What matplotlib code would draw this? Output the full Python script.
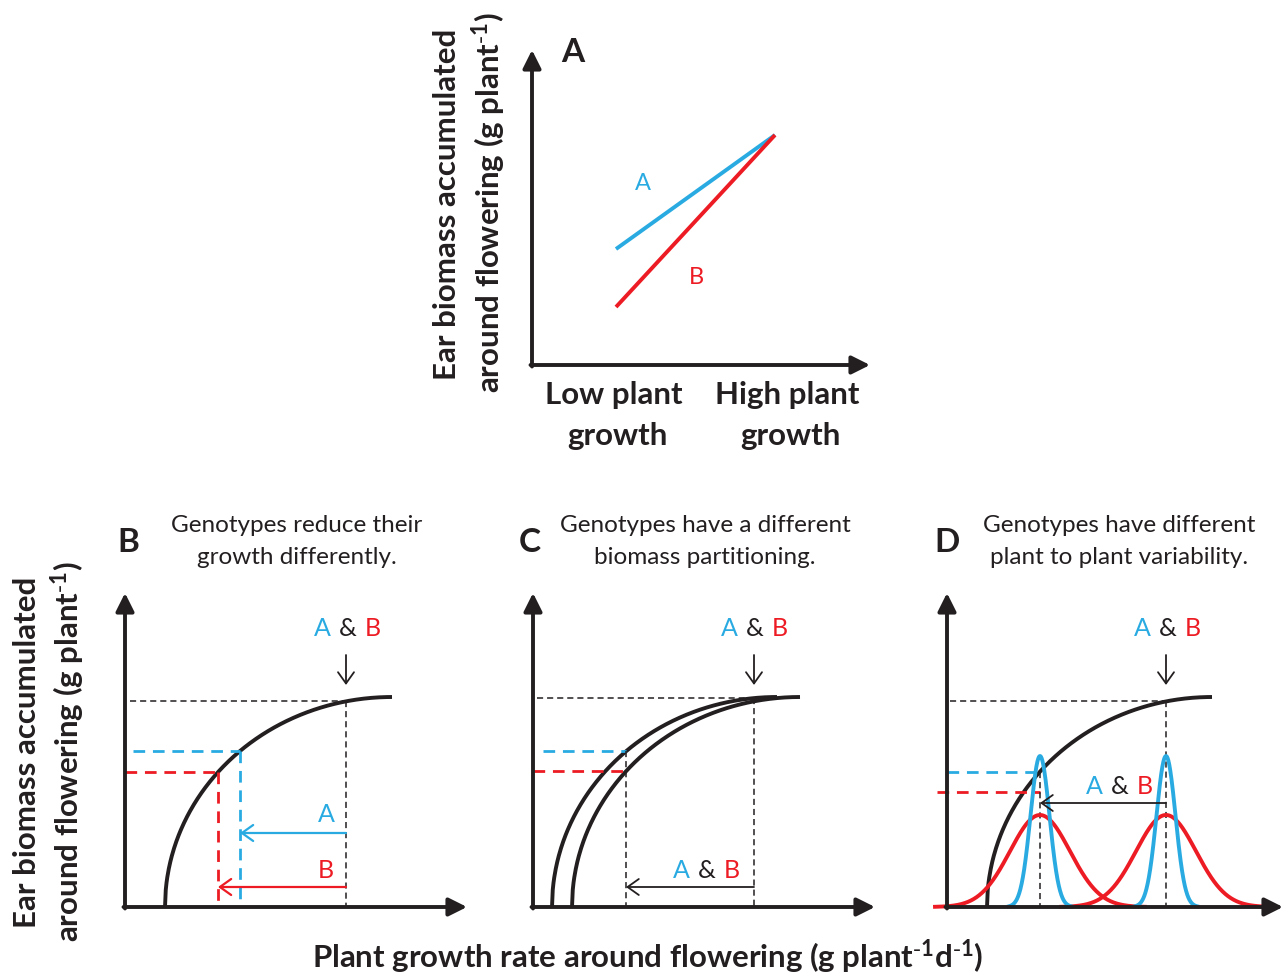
import numpy as np
import matplotlib
matplotlib.use("Agg")
import matplotlib.pyplot as plt

W, H = 1286, 976
BLUE = '#29abe2'
RED = '#ed1c24'
INK = '#231f20'

# ---- panel A: two genotypes, low vs high plant growth (local px units)
a_growth = [84, 243]
a_ear_A = [116, 230]
a_ear_B = [58, 230]

# ---- response curves (quarter ellipse): start x, end x, plateau height
curve_B = (40, 267, 210)
curve_C = [(19, 244, 210), (39, 267, 210)]
curve_D = (40, 265, 210)

# growth rate under no stress (A & B) and under stress
ref_x = 221
B_stress = {'A': 115, 'B': 93}
C_stress = 93
D_stress = 93
D_ear_B = 115

# plant-to-plant distributions in D
D_centers = [93, 219]
D_sigma = {'A': 9.5, 'B': 30}
D_peak = {'A': 151, 'B': 92}

BOLD = 22.5
TITLE = 17.5
SUP = r'$^{\text{-}1}$'

plt.rcParams['font.family'] = ['Lato', 'DejaVu Sans']
plt.rcParams['mathtext.default'] = 'regular'

fig = plt.figure(figsize=(W / 100, H / 100), dpi=100)


def panel(ox, oy, x0, x1, y0, y1):
    ax = fig.add_axes([(ox + x0) / W, (H - oy + y0) / H, (x1 - x0) / W, (y1 - y0) / H])
    ax.set_xlim(x0, x1)
    ax.set_ylim(y0, y1)
    ax.axis('off')
    return ax


def axis_arrows(ax, xlen, ylen):
    st = dict(arrowstyle='-|>,head_length=0.5,head_width=0.25', lw=2.8, color=INK,
              mutation_scale=22, shrinkA=0, shrinkB=0)
    ax.annotate('', xy=(xlen, 0), xytext=(-1.5, 0), arrowprops=st, annotation_clip=False)
    ax.annotate('', xy=(0, ylen), xytext=(0, -1.5), arrowprops=st, annotation_clip=False)


def arrow(ax, tip, tail, color=INK, lw=1.3):
    ax.annotate('', xy=tip, xytext=tail, annotation_clip=False,
                arrowprops=dict(arrowstyle='->,head_length=0.45,head_width=0.32', lw=lw,
                                color=color, mutation_scale=18, shrinkA=0, shrinkB=0))


def ellipse(c, x):
    xs, xe, h = c
    return h * np.sqrt(np.clip(1 - ((xe - x) / (xe - xs)) ** 2, 0, 1))


def draw_curve(ax, c):
    xs, xe, h = c
    x = np.linspace(xs, xe, 300)
    ax.plot(x, ellipse(c, x), color=INK, lw=2.8, solid_capstyle='butt', clip_on=False)


def kdash(ax, x, y):
    ax.plot(x, y, color=INK, lw=1.1, dashes=(4, 2.6), clip_on=False)


def cdash(ax, x, y, color):
    ax.plot(x, y, color=color, lw=2.0, dashes=(4.2, 2.8), clip_on=False)


def ab_label(ax, x, y, size=18):
    ax.text(x, y, '&', color=INK, fontsize=size, ha='center', va='center')
    ax.text(x - 17, y, 'A', color=BLUE, fontsize=size, ha='right', va='center')
    ax.text(x + 17, y, 'B', color=RED, fontsize=size, ha='left', va='center')


def title(ax, lines, letter, lx):
    ax.text(lx, 365, letter, fontsize=24, fontweight='bold', color=INK, ha='center', va='center')
    ax.text(172, 381, lines[0], fontsize=TITLE, color=INK, ha='center', va='center')
    ax.text(172, 349, lines[1], fontsize=TITLE, color=INK, ha='center', va='center')


# ================= panel A
axA = panel(532, 365, -110, 360, -100, 370)
axis_arrows(axA, 338, 315)
axA.plot(a_growth, a_ear_A, color=BLUE, lw=2.8, solid_capstyle='butt')
axA.plot(a_growth, a_ear_B, color=RED, lw=2.8, solid_capstyle='butt')
axA.text(41, 313, 'A', fontsize=24, fontweight='bold', color=INK, ha='center', va='center')
axA.text(111, 182, 'A', fontsize=17, color=BLUE, ha='center', va='center')
axA.text(164, 88, 'B', fontsize=17, color=RED, ha='center', va='center')
axA.text(82, -30, 'Low plant', fontsize=BOLD, fontweight='bold', color=INK, ha='center', va='center')
axA.text(255, -30, 'High plant', fontsize=BOLD, fontweight='bold', color=INK, ha='center', va='center')
axA.text(85, -71, 'growth', fontsize=BOLD, fontweight='bold', color=INK, ha='center', va='center')
axA.text(258, -71, 'growth', fontsize=BOLD, fontweight='bold', color=INK, ha='center', va='center')
axA.text(-85, 161, 'Ear biomass accumulated', fontsize=BOLD, fontweight='bold',
         rotation=90, ha='center', va='center', color=INK)
axA.text(-43, 162, 'around flowering (g plant' + SUP + ')', fontsize=BOLD, fontweight='bold',
         rotation=90, ha='center', va='center', color=INK)

# ================= panel B
axB = panel(125, 907, -20, 360, -20, 400)
axis_arrows(axB, 342, 314)
draw_curve(axB, curve_B)
yr = ellipse(curve_B, ref_x)
kdash(axB, [5, ref_x], [yr, yr])
kdash(axB, [ref_x, ref_x], [yr, 0])
for g, col in [('A', BLUE), ('B', RED)]:
    xs = B_stress[g]
    ys = ellipse(curve_B, xs)
    cdash(axB, [8 if g == 'A' else 0, xs], [ys, ys], col)
    cdash(axB, [xs, xs], [ys, 0], col)
arrow(axB, (B_stress['A'], 74), (ref_x, 74), BLUE, 1.6)
arrow(axB, (B_stress['B'], 20), (ref_x, 20), RED, 1.6)
axB.text(201, 92, 'A', fontsize=18, color=BLUE, ha='center', va='center')
axB.text(201, 37, 'B', fontsize=18, color=RED, ha='center', va='center')
arrow(axB, (ref_x, 222), (ref_x, 252))
ab_label(axB, 223, 279)
title(axB, ['Genotypes reduce their', 'growth differently.'], 'B', 3)

# ================= panel C
axC = panel(533, 907, -20, 360, -20, 400)
axis_arrows(axC, 342, 314)
for c in curve_C:
    draw_curve(axC, c)
yr = ellipse(curve_C[0], ref_x)
kdash(axC, [4, ref_x], [yr, yr])
kdash(axC, [ref_x, ref_x], [yr, 0])
yA = ellipse(curve_C[0], C_stress)
yB = ellipse(curve_C[1], C_stress)
cdash(axC, [10, C_stress], [yA, yA], BLUE)
cdash(axC, [0, C_stress], [yB, yB], RED)
kdash(axC, [C_stress, C_stress], [yA, 0])
arrow(axC, (C_stress, 20), (ref_x, 20))
ab_label(axC, 174, 37)
arrow(axC, (ref_x, 222), (ref_x, 252))
ab_label(axC, 222, 279)
title(axC, ['Genotypes have a different', 'biomass partitioning.'], 'C', -3)

# ================= panel D
axD = panel(947, 907, -20, 339, -20, 400)
axis_arrows(axD, 336, 314)
draw_curve(axD, curve_D)
yr = ellipse(curve_D, ref_x - 2)
kdash(axD, [3, ref_x - 2], [yr, yr])
kdash(axD, [ref_x - 2, ref_x - 2], [yr, 0])
yA = ellipse(curve_D, D_stress)
cdash(axD, [0, D_stress], [yA, yA], BLUE)
cdash(axD, [-10, D_stress], [D_ear_B, D_ear_B], RED)
kdash(axD, [D_stress, D_stress], [yA, 0])
for g, col, span in [('B', RED, 3.5), ('A', BLUE, 3.3)]:
    for c in D_centers:
        s = D_sigma[g]
        x = np.linspace(c - span * s, c + span * s, 300)
        axD.plot(x, D_peak[g] * np.exp(-(x - c) ** 2 / (2 * s ** 2)), color=col, lw=2.8,
                 clip_on=False)
arrow(axD, (D_stress, 104), (D_centers[1], 104))
ab_label(axD, 173, 120)
arrow(axD, (ref_x - 2, 222), (ref_x - 2, 252))
ab_label(axD, 221, 279)
title(axD, ['Genotypes have different', 'plant to plant variability.'], 'D', 0)

# ================= shared labels
fig.text(648 / W, 1 - 967 / H,
         'Plant growth rate around flowering (g plant' + SUP + 'd' + SUP + ')',
         fontsize=BOLD, fontweight='bold', ha='center', va='baseline', color=INK)
fig.text(27 / W, 1 - 752 / H, 'Ear biomass accumulated', fontsize=BOLD, fontweight='bold',
         rotation=90, ha='center', va='center', color=INK)
fig.text(68 / W, 1 - 752 / H, 'around flowering (g plant' + SUP + ')', fontsize=BOLD,
         fontweight='bold', rotation=90, ha='center', va='center', color=INK)

fig.savefig('out.png', dpi=100, facecolor='white')
